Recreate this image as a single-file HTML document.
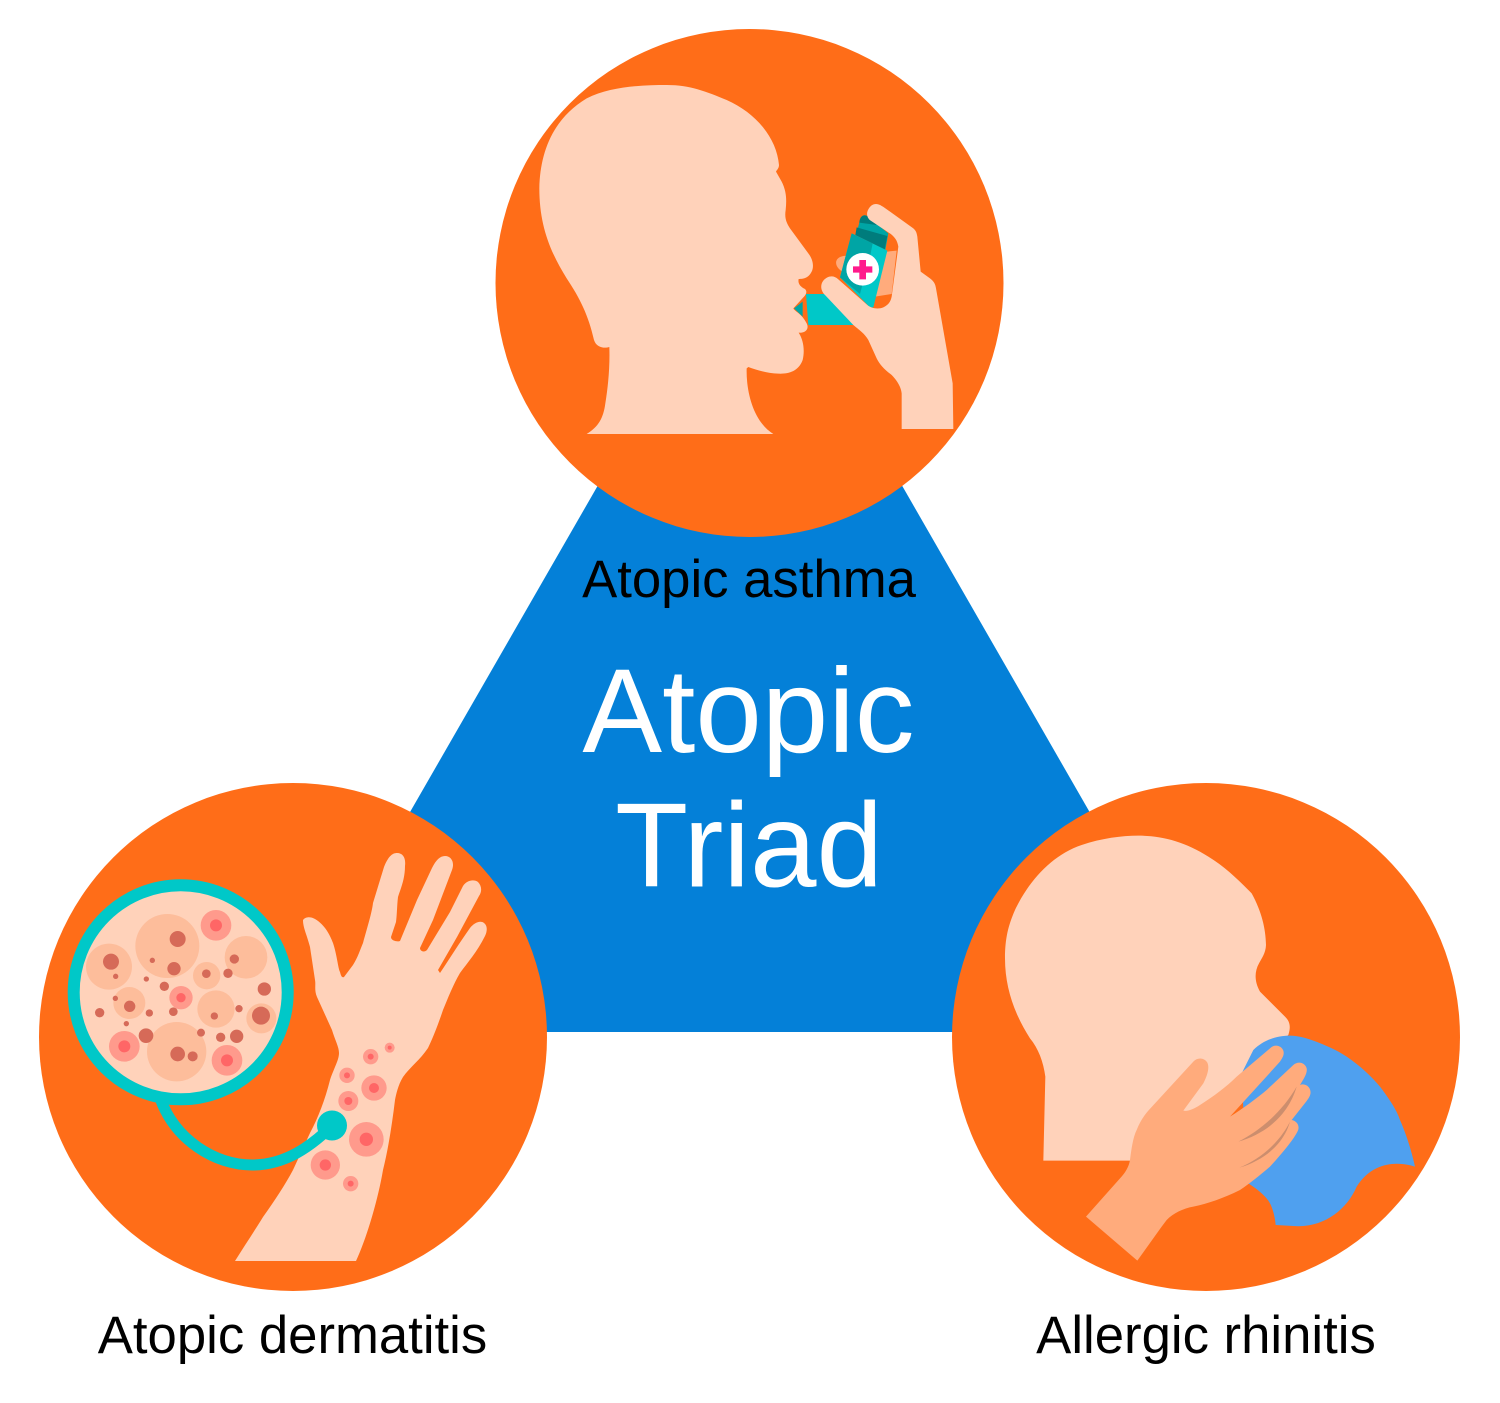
<!DOCTYPE html>
<html><head><meta charset="utf-8"><style>
html,body{margin:0;padding:0;background:#fff}
svg{display:block}
text{font-family:"Liberation Sans",Arial,sans-serif;text-anchor:middle}
</style></head><body>
<svg xmlns="http://www.w3.org/2000/svg" width="1500" height="1403" viewBox="0 0 1500 1403">
<polygon points="750,221 283.500,1032 1216,1032" fill="#0480D8"/>
<circle cx="749.5" cy="283" r="254" fill="#FF6D18"/>
<circle cx="293" cy="1037" r="254" fill="#FF6D18"/>
<circle cx="1206" cy="1037" r="254" fill="#FF6D18"/>

<!-- inhaler group in zoom coords -->
<g transform="translate(780,190) scale(0.33333)">
<path d="M78,312 L140,312 L225,405 L85,405 Z" fill="#00C8C8"/>
<path d="M42,355 L68,335 L68,380 Z" fill="#00A5A5"/>
<path d="M190,198 L350,182 L335,312 L285,320 L200,250 C165,240 155,205 190,198 Z" fill="#FFAB7C"/>
<path d="M238,98 C240,75 255,68 270,85 L325,130 L316,180 L228,135 Z" fill="#00A5A5"/>
<path d="M238,98 C240,75 255,68 275,88 L290,105 Z" fill="#007C7C"/>
<path d="M230,112 L322,138 L314,178 L226,135 Z" fill="#007C7C"/>
<path d="M215,130 L322,182 L280,352 L270,352 L180,262 Z" fill="#00C8C8"/>
<path d="M215,130 L278,160 L272,190 L240,312 L180,262 Z" fill="#00A5A5"/>
<circle cx="248" cy="238" r="49" fill="#fff"/>
<path d="M238,210 H258 V229 H277 V248 H258 V268 H238 V248 H219 V229 H238 Z" fill="#FF1A8C"/>
<path d="M288,42 C298,42 305,48 312,52 L400,115 C408,122 410,128 412,140 L422,245 L450,265 C462,274 466,282 468,295 L518,580 L520,717 L365,717 L365,610 C363,590 350,570 335,555 C315,540 300,525 290,505 L265,450 C255,432 238,420 220,405 L135,315 C122,302 120,285 130,272 C142,258 160,254 175,268 L262,345 C275,356 295,358 310,352 C325,345 332,335 335,320 L355,170 C352,152 345,140 325,127 L272,92 C262,85 258,72 264,60 C270,48 278,42 288,42 Z" fill="#FFD2BA"/>
</g>
<!-- top: head -->
<g transform="translate(530,75) scale(0.33333)">
<path d="M170,1077 C205,1055 220,1030 226,985 C235,930 240,870 238,816 C225,820 200,820 192,795 C175,720 150,670 110,610 C60,530 28,450 28,340 C30,230 70,130 170,70 C240,35 330,30 410,30 C480,30 530,50 590,75 C680,115 740,190 747,270 C747,280 740,285 738,290 L755,320 C770,350 770,375 767,405 C763,430 770,445 780,460 L835,535 C850,555 852,575 845,590 C835,610 820,612 806,612 C803,625 810,635 825,642 C833,650 828,660 820,667 L790,700 C795,710 815,715 830,745 C838,760 828,775 806,773 C820,795 825,825 818,855 C805,890 775,897 745,896 C710,895 680,885 655,876 L650,880 C648,950 670,1040 730,1077 Z" fill="#FFD2BA"/>
</g>

<!-- left: arm -->
<path d="M303,920 C305,917 310,916 315,919 C325,925 330,935 333,943 C337,955 338,968 340,972 C341,976 342,978 344,977 L353,965 C358,957 360,950 363,943 C368,925 372,912 373,903 L384,867 C388,857 392,853 397,853 C403,853 406,858 405,866 C405,880 400,890 398,897 C397,905 397,915 396,922 L391,937 C391,941 398,942 400,941 L417,900 L432,868 C436,860 440,856 445,856 C451,856 455,862 452,870 L433,920 L420,948 C420,951 424,953 427,950 L450,912 L463,886 C467,880 474,879 478,882 C482,886 482,892 479,896 L457,937 L438,970 L440,973 C450,958 460,942 470,928 C474,923 480,920 484,923 C488,926 487,932 485,936 C477,952 468,962 460,973 C453,985 448,998 443,1010 C438,1025 432,1040 428,1048 C420,1060 410,1067 403,1077 C398,1085 396,1095 395,1100 C392,1125 388,1150 383,1170 C378,1200 366,1240 356,1261 L235,1261 C245,1245 255,1230 263,1217 C275,1200 285,1185 293,1170 L310,1133 C318,1118 325,1100 330,1080 C334,1068 339,1060 339,1053 C339,1047 335,1040 332,1030 L317,997 C314,990 316,985 315,980 L310,947 C307,935 303,928 303,920 Z" fill="#FFD2BA"/>
<g transform="translate(230,1030) scale(0.33333)">
<g fill="#FF9A8C"><circle cx="422" cy="80" r="23"/><circle cx="479" cy="53" r="15"/><circle cx="351" cy="136" r="23"/><circle cx="432" cy="174" r="38"/><circle cx="355" cy="213" r="30"/><circle cx="409" cy="328" r="52"/><circle cx="286" cy="405" r="44"/><circle cx="362" cy="461" r="23"/></g>
<g fill="#FF6666"><circle cx="422" cy="80" r="9"/><circle cx="479" cy="53" r="6"/><circle cx="351" cy="136" r="9"/><circle cx="432" cy="174" r="15"/><circle cx="355" cy="213" r="12"/><circle cx="409" cy="328" r="20"/><circle cx="286" cy="405" r="17"/><circle cx="362" cy="461" r="9"/></g>
</g>
<path d="M160,1098 C175,1140 215,1165 252,1165 C285,1165 310,1147 332,1126" fill="none" stroke="#00C8C8" stroke-width="11"/>
<circle cx="332" cy="1125.500" r="15" fill="#00C8C8"/>
<circle cx="180.700" cy="992.300" r="107" fill="#FFD2BA" stroke="#00C8C8" stroke-width="12"/>
<g transform="translate(60,870) scale(0.33333)">
<g fill="#FDBD9B"><circle cx="322" cy="228" r="96"/><circle cx="147" cy="290" r="69"/><circle cx="558" cy="262" r="64"/><circle cx="440" cy="317" r="41"/><circle cx="208" cy="399" r="48"/><circle cx="468" cy="417" r="56"/><circle cx="604" cy="445" r="45"/><circle cx="350" cy="545" r="89"/></g>
<g fill="#FF9A8C"><circle cx="468" cy="166" r="46"/><circle cx="363" cy="383" r="35"/><circle cx="193" cy="529" r="46"/><circle cx="501" cy="571" r="46"/></g>
<g fill="#FF6666"><circle cx="468" cy="166" r="18"/><circle cx="363" cy="383" r="14"/><circle cx="193" cy="529" r="18"/><circle cx="501" cy="571" r="18"/></g>
<g fill="#D66A58"><circle cx="353" cy="207" r="24"/><circle cx="342" cy="296" r="20"/><circle cx="153" cy="275" r="24"/><circle cx="167" cy="319" r="8"/><circle cx="277" cy="271" r="8"/><circle cx="259" cy="327" r="8"/><circle cx="313" cy="349" r="14"/><circle cx="439" cy="311" r="13"/><circle cx="504" cy="310" r="14"/><circle cx="523" cy="267" r="14"/><circle cx="613" cy="357" r="20"/><circle cx="537" cy="416" r="11"/><circle cx="603" cy="437" r="27"/><circle cx="463" cy="438" r="11"/><circle cx="340" cy="425" r="13"/><circle cx="268" cy="429" r="11"/><circle cx="209" cy="409" r="17"/><circle cx="166" cy="385" r="8"/><circle cx="119" cy="428" r="14"/><circle cx="199" cy="461" r="8"/><circle cx="258" cy="497" r="22"/><circle cx="423" cy="488" r="12"/><circle cx="482" cy="502" r="14"/><circle cx="530" cy="499" r="20"/><circle cx="353" cy="552" r="22"/><circle cx="398" cy="559" r="15"/></g>
</g>

<!-- right: head -->
<g transform="translate(995,825) scale(0.33333)">
<path d="M145,1007 L151,755 C145,710 130,670 105,640 C60,570 30,490 30,400 C30,340 40,300 60,255 C100,170 170,90 260,60 C320,40 380,32 430,32 C500,32 570,50 640,95 C690,125 730,165 770,205 C800,260 812,310 813,360 C812,385 800,400 792,415 C778,440 778,470 795,500 L870,575 C885,590 888,605 880,630 L740,750 L600,1007 Z" fill="#FFD2BA"/>
</g>
<g transform="translate(1080,1020) scale(0.33333)">
<path d="M485,160 L520,90 C550,60 590,47 630,47 C655,47 680,55 700,62 C735,75 770,90 800,110 C840,137 875,170 900,200 C930,240 950,270 960,300 C980,345 995,395 1005,440 C960,425 880,420 830,500 C800,570 730,625 640,618 L587,615 C585,590 578,565 570,550 C560,530 530,505 500,487 Z" fill="#4FA0EF"/>
<path d="M18,590 L120,475 C135,460 147,440 150,420 C155,380 160,350 170,330 C180,305 190,290 205,272 L340,125 C352,112 372,112 382,128 C390,145 380,170 370,190 L310,272 C325,275 345,265 360,255 C400,230 440,200 470,170 L570,85 C585,70 605,78 610,92 C614,105 606,115 600,125 L450,290 C490,265 530,235 560,210 L640,135 C655,122 675,128 680,145 C683,160 670,178 660,195 C670,190 685,195 690,208 C695,222 688,232 680,243 L635,300 C650,303 658,315 655,328 C650,345 620,385 570,440 C535,470 510,490 480,510 C430,535 385,550 340,560 C310,565 280,580 260,600 L245,620 L172,722 Z" fill="#FFAB7C"/>
<path d="M475,365 C545,330 610,270 650,200 C625,285 560,340 475,365 Z" fill="#CC8E6E"/>
<path d="M478,443 C545,415 600,365 630,305 C612,370 555,420 478,443 Z" fill="#CC8E6E"/>
</g>

<text x="749" y="597" font-size="52.700" fill="#000">Atopic asthma</text>
<text x="748.500" y="752" font-size="119.500" fill="#fff">Atopic</text>
<text x="749" y="886.500" font-size="119.500" fill="#fff">Triad</text>
<text x="292.500" y="1353" font-size="52.700" fill="#000">Atopic dermatitis</text>
<text x="1206" y="1353" font-size="52.700" fill="#000">Allergic rhinitis</text>
</svg>
</body></html>
